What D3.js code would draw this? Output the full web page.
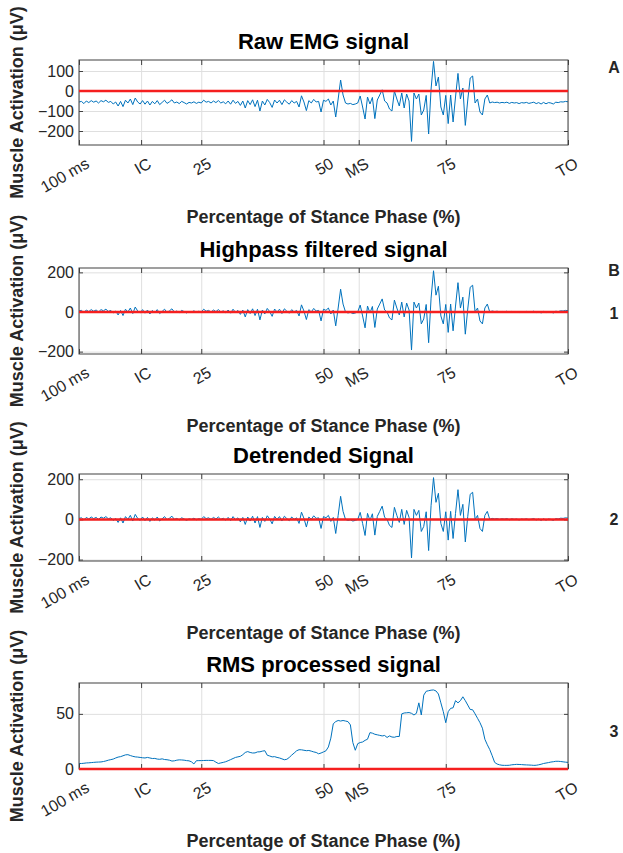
<!DOCTYPE html>
<html>
<head>
<meta charset="utf-8">
<script src="https://cdn.jsdelivr.net/npm/d3@7"></script>
<style>
body { margin: 0; background: #fff; }
text { font-family: "Liberation Sans", Arial, Helvetica, sans-serif; }
</style>
</head>
<body>
<div id="chart"></div>
<script>
// x axis: percentage of stance phase with gait events as labels
var xTickValues = [0, 12.7, 25, 50, 57.2, 75, 100];
var xTickLabels = ["100 ms", "IC", "25", "50", "MS", "75", "TO"];

var sampleStep = 0.5;

var rawSignal = [
  -55, -52, -63, -50, -58, -48, -56, -50, -60, -48,
  -54, -46, -57, -52, -65, -55, -75, -52, -78, -46,
  -60, -40, -68, -35, -55, -65, -48, -66, -50, -70,
  -52, -64, -48, -68, -57, -46, -62, -54, -44, -60,
  -55, -63, -52, -58, -65, -57, -60, -54, -62, -56,
  -60, -46, -56, -52, -60, -50, -58, -48, -60, -54,
  -64, -50, -66, -46, -62, -52, -72, -50, -85, -48,
  -68, -44, -78, -46, -100, -50, -70, -42, -58, -82,
  -45, -60, -46, -68, -44, -56, -66, -48, -60, -52,
  -80, -24, -55, -98, -48, -60, -42, -55, -52, -105,
  -46, -52, -40, -70, -50, -130, -40, 55, -20, -60,
  -65, -62, -68, -65, -60, -25, -80, -140, -30, -65,
  -32, -138, -45, -20, 6, -50, -60, -90, -100, 0,
  -40, -75, -10, -85, -15, -50, -252, -10, -40, -15,
  -120, -95, -22, -215, 10, 148, 25, 70, -80, -120,
  -22, -163, -20, -155, -30, 88, -40, 15, -172, -45,
  65, 75, -60, -40, -105, -120, -40, -20, -60, -55,
  -58, -56, -60, -57, -59, -56, -62, -57, -60, -58,
  -63, -58, -60, -57, -62, -59, -56, -63, -58, -65,
  -57, -64, -58, -60, -65, -56, -58, -54, -55, -52,
  -54
];

var highpassSignal = [
  5, 8, -3, 10, 2, 12, 4, 10, 0, 12,
  6, 14, 3, 8, -5, 5, -15, 8, -18, 14,
  0, 20, -8, 25, 5, -5, 12, -6, 10, -10,
  8, -4, 12, -8, 3, 14, -2, 6, 16, 0,
  5, -3, 8, 2, -5, 3, 0, 6, -2, 4,
  0, 14, 4, 8, 0, 10, 2, 12, 0, 6,
  -4, 10, -6, 14, -2, 8, -12, 10, -25, 12,
  -8, 16, -18, 14, -40, 10, -10, 18, 2, -22,
  15, 0, 14, -8, 16, 4, -6, 12, 0, 8,
  -20, 36, 5, -38, 12, 0, 18, 5, 8, -45,
  14, 8, 20, -10, 10, -70, 20, 115, 40, 0,
  -5, -2, -8, -5, 0, 35, -20, -80, 30, -5,
  28, -78, 15, 40, 66, 10, 0, -30, -40, 60,
  20, -15, 50, -25, 45, 10, -192, 50, 20, 45,
  -60, -35, 38, -155, 70, 208, 85, 130, -20, -60,
  38, -103, 40, -95, 30, 148, 20, 75, -112, 15,
  125, 135, 0, 20, -45, -60, 20, 40, 0, 5,
  2, 4, 0, 3, 1, 4, -2, 3, 0, 2,
  -3, 2, 0, 3, -2, 1, 4, -3, 2, -5,
  3, -4, 2, 0, -5, 4, 2, 6, 5, 8,
  6
];

// the detrended trace is indistinguishable from the highpass one
var detrendedSignal = highpassSignal.slice();

var rmsSignal = [
  5, 5, 5.2, 5.5, 5.6, 5.8, 6, 6.2, 6.3, 6.4,
  6.8, 7.3, 8, 8.5, 9, 10, 10.8, 11.2, 12, 12.8,
  13, 12.2, 11.5, 11, 10.8, 10.5, 10.2, 10, 10.5, 10,
  9.5, 9.6, 9, 8.8, 9.2, 8.6, 8.4, 8, 7.2, 7.4,
  8, 8.3, 8.2, 8, 7.6, 7.4, 6.5, 4.6, 7.5, 7.6,
  7.6, 7.7, 7.8, 7.8, 7.8, 7.6, 6.2, 5, 5.5, 6,
  6.6, 7.5, 8.5, 9.5, 10.5, 11, 11.5, 13, 15, 15.8,
  15, 14.5, 14.6, 15.5, 15.6, 16.2, 16.6, 12.5, 11.8, 11,
  11.2, 10.5, 10, 9.2, 8.4, 8.8, 10.5, 12.6, 14.5, 16.5,
  17.5, 17.4, 17, 16.6, 16.8, 16.2, 15.5, 15, 13.8, 14.5,
  15.5, 16.5, 20, 28, 41, 43, 44, 43.5, 44, 43.5,
  43, 40, 24, 17, 23, 24, 24.5, 26, 27, 33,
  32.5, 31.5, 31, 30.5, 30, 30.4, 28.6, 30, 29, 28.8,
  29.5, 29.5, 50, 50.8, 51, 51.2, 50.5, 49, 50.5, 60,
  49, 67, 70.5, 71, 71.5, 71.7, 70.8, 68, 60, 52,
  42, 52, 55, 55.5, 62, 60, 62, 65.5, 62, 58,
  54, 53.7, 50, 46, 42, 37, 27, 22, 17.6, 12,
  6, 4.5, 3.8, 3.4, 3.3, 3.3, 3.4, 3.8, 4, 4.2,
  4.1, 4, 3.8, 3.7, 3.6, 3.5, 3.3, 3.4, 3.8, 4.3,
  5, 5.4, 5.8, 6.3, 6.6, 7, 7, 6.8, 6.5, 6.2,
  6
];

var panelTitles = ["Raw EMG signal", "Highpass filtered signal", "Detrended Signal", "RMS processed signal"];
var panelYDomains = [[-270, 155], [-212, 222], [-207, 226], [0, 78]];
var panelYTicks = [[-200, -100, 0, 100], [-200, 0, 200], [-200, 0, 200], [0, 50]];
var panelSignals = [rawSignal, highpassSignal, detrendedSignal, rmsSignal];
var panelSideLabels = [["A"], ["B", "1"], ["2"], ["3"]];

var yLabel = "Muscle Activation (\u03bcV)";
var xLabel = "Percentage of Stance Phase (%)";

// layout
var svgWidth = 623, svgHeight = 853;
var plotLeft = 79, plotRight = 568;
var panelTops = [60, 268, 474, 683];
var panelBottoms = [145, 354, 561, 769];
var sideLabelY = [[73], [276, 319], [525], [737]];

var textColor = "#262626";
var lineColor = "#0072bd";
var zeroColor = "#f51f1f";
var gridColor = "#dfdfdf";
var axisColor = "#404040";

var svg = d3.select("#chart")
  .append("svg")
  .attr("width", svgWidth)
  .attr("height", svgHeight);

var x = d3.scaleLinear().domain([0, 100]).range([plotLeft, plotRight]);

panelTitles.forEach(function(title, k) {
  var top = panelTops[k], bottom = panelBottoms[k];
  var h = bottom - top;
  var y = d3.scaleLinear().domain(panelYDomains[k]).range([bottom, top]);
  var g = svg.append("g");

  g.append("clipPath").attr("id", "clip" + k)
    .append("rect")
    .attr("x", plotLeft).attr("y", top)
    .attr("width", plotRight - plotLeft).attr("height", h);

  // grid lines
  var gx = g.append("g")
    .attr("transform", `translate(0, ${bottom})`)
    .call(d3.axisBottom(x).tickValues(xTickValues).tickSize(-h).tickFormat(""));
  var gy = g.append("g")
    .attr("transform", `translate(${plotLeft}, 0)`)
    .call(d3.axisLeft(y).tickValues(panelYTicks[k]).tickSize(-(plotRight - plotLeft)).tickFormat(""));
  [gx, gy].forEach(function(a) {
    a.select(".domain").remove();
    a.selectAll("line").attr("stroke", gridColor).attr("stroke-width", 1);
  });

  // signal
  var line = d3.line()
    .x(function(d, i) { return x(i * sampleStep); })
    .y(function(d) { return y(d); });

  g.append("path")
    .datum(panelSignals[k])
    .attr("clip-path", `url(#clip${k})`)
    .attr("fill", "none")
    .attr("stroke", lineColor)
    .attr("stroke-width", 1)
    .attr("d", line);

  // axes with inward ticks
  var bottomAxis = g.append("g")
    .attr("transform", `translate(0, ${bottom})`)
    .call(d3.axisBottom(x).tickValues(xTickValues)
      .tickFormat(function(d, i) { return xTickLabels[i]; })
      .tickSizeInner(-5).tickSizeOuter(0));
  bottomAxis.selectAll("text")
    .attr("x", 0).attr("y", 0).attr("dy", "0.35em")
    .attr("text-anchor", "end")
    .attr("transform", "translate(8, 17) rotate(-30)")
    .attr("fill", textColor)
    .style("font-size", "16px");

  var topAxis = g.append("g")
    .attr("transform", `translate(0, ${top})`)
    .call(d3.axisTop(x).tickValues(xTickValues).tickFormat("").tickSizeInner(-5).tickSizeOuter(0));

  var leftAxis = g.append("g")
    .attr("transform", `translate(${plotLeft}, 0)`)
    .call(d3.axisLeft(y).tickValues(panelYTicks[k]).tickSizeInner(-4).tickSizeOuter(0).tickPadding(5));
  leftAxis.selectAll("text")
    .attr("fill", textColor)
    .style("font-size", "16px");

  var rightAxis = g.append("g")
    .attr("transform", `translate(${plotRight}, 0)`)
    .call(d3.axisRight(y).tickValues(panelYTicks[k]).tickFormat("").tickSizeInner(-4).tickSizeOuter(0));

  [bottomAxis, topAxis, leftAxis, rightAxis].forEach(function(a) {
    a.select(".domain").remove();
    a.selectAll(".tick line").attr("stroke", axisColor);
  });

  // box
  g.append("rect")
    .attr("x", plotLeft).attr("y", top)
    .attr("width", plotRight - plotLeft).attr("height", h)
    .attr("fill", "none")
    .attr("stroke", axisColor)
    .attr("stroke-width", 1);

  // zero reference line, drawn over the box edge
  g.append("line")
    .attr("x1", x(0)).attr("x2", x(100))
    .attr("y1", y(0)).attr("y2", y(0))
    .attr("stroke", zeroColor)
    .attr("stroke-width", 2.5);

  // title
  g.append("text")
    .attr("x", (plotLeft + plotRight) / 2)
    .attr("y", top - 11)
    .attr("text-anchor", "middle")
    .attr("font-weight", "bold")
    .attr("font-size", "22px")
    .attr("fill", "#000")
    .text(title);

  // x label
  g.append("text")
    .attr("x", (plotLeft + plotRight) / 2)
    .attr("y", bottom + 78)
    .attr("text-anchor", "middle")
    .attr("font-weight", "bold")
    .attr("font-size", "18px")
    .attr("fill", textColor)
    .text(xLabel);

  // y label
  g.append("text")
    .attr("transform", `translate(23, ${(top + bottom) / 2}) rotate(-90)`)
    .attr("text-anchor", "middle")
    .attr("font-weight", "bold")
    .attr("font-size", "18px")
    .attr("fill", textColor)
    .text(yLabel);

  // panel letters / numbers on the right
  panelSideLabels[k].forEach(function(s, j) {
    g.append("text")
      .attr("x", 614)
      .attr("y", sideLabelY[k][j])
      .attr("text-anchor", "middle")
      .attr("font-weight", "bold")
      .attr("font-size", "16px")
      .attr("fill", textColor)
      .text(s);
  });
});
</script>
</body>
</html>
